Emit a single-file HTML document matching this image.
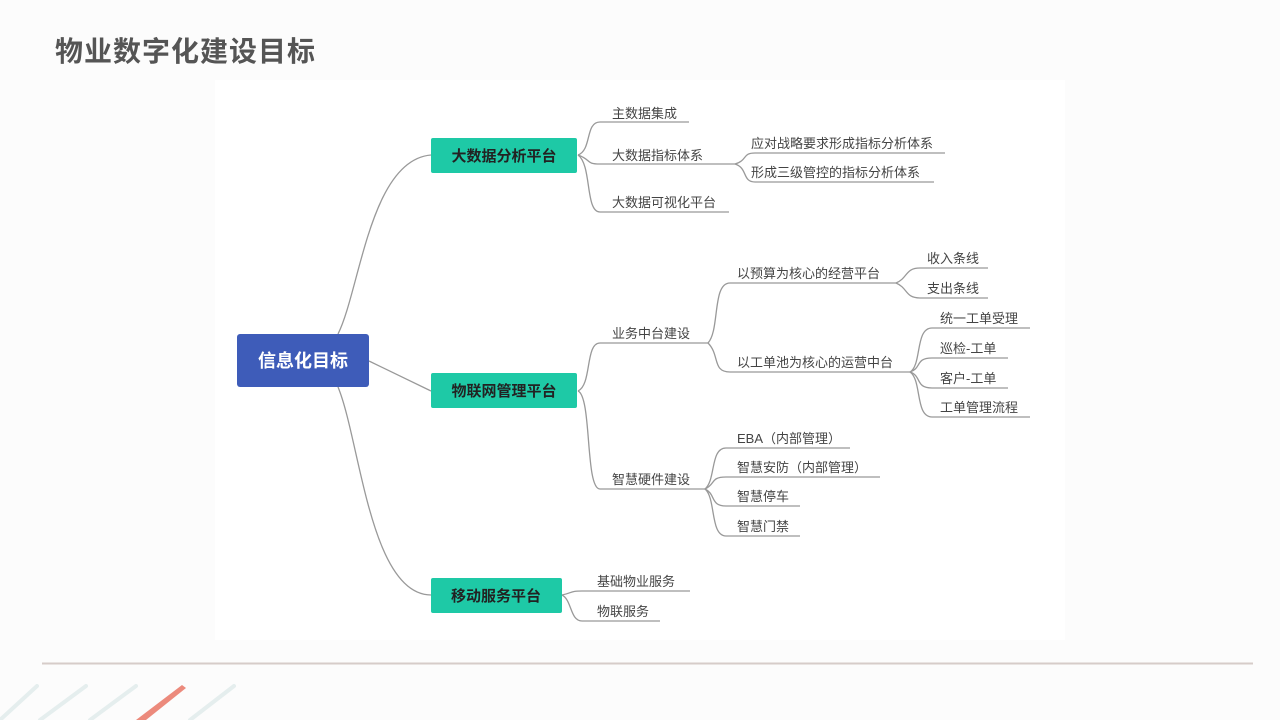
<!DOCTYPE html>
<html><head><meta charset="utf-8">
<style>
html,body{margin:0;padding:0;background:#fcfcfc;}
body{width:1280px;height:720px;overflow:hidden;position:relative;font-family:"Liberation Sans","Noto Sans CJK SC",sans-serif;}
.title{position:absolute;left:55px;top:34px;font-size:28px;font-weight:bold;color:#555;letter-spacing:1px;line-height:36px;}
svg{position:absolute;left:0;top:0;}
</style></head><body>
<div class="title">物业数字化建设目标</div>
<svg width="1280" height="720" viewBox="0 0 1280 720">
<rect x="215" y="80" width="850" height="560" fill="#fff"/>
<g fill="none" stroke="#999" stroke-width="1.3">
<path d="M338 334 C360 290 370 160 431 155"/>
<path d="M369 361 L431 391"/>
<path d="M338 387 C360 440 370 595 431 595"/>
<path d="M578 155 C592 150 585 122 600 122 L689 122"/>
<path d="M578 155 C592 160 585 164 600 164 L735 164"/>
<path d="M578 155 C592 165 585 212 600 212 L729 212"/>
<path d="M735 164 C748 160 742 153 755 153 L945 153"/>
<path d="M735 164 C748 168 742 182 755 182 L934 182"/>
<path d="M578 391 C592 385 585 343 600 343 L708 343"/>
<path d="M578 391 C592 397 585 489 600 489 L705 489"/>
<path d="M708 343 C720 330 712 283 730 283 L896 283"/>
<path d="M708 343 C720 355 712 372 730 372 L910 372"/>
<path d="M896 283 C908 278 905 268 920 268 L988 268"/>
<path d="M896 283 C908 288 905 298 920 298 L988 298"/>
<path d="M910 372 C922 365 915 328 932 328 L1030 328"/>
<path d="M910 372 C922 368 915 358 932 358 L1008 358"/>
<path d="M910 372 C922 376 915 388 932 388 L1008 388"/>
<path d="M910 372 C922 380 915 417 932 417 L1030 417"/>
<path d="M705 489 C716 480 710 448 726 448 L850 448"/>
<path d="M705 489 C716 484 710 477 726 477 L880 477"/>
<path d="M705 489 C716 494 710 506 726 506 L800 506"/>
<path d="M705 489 C716 498 710 536 726 536 L800 536"/>
<path d="M562 595 C572 593 570 591 582 591 L690 591"/>
<path d="M562 595 C572 600 570 621 582 621 L660 621"/>
</g>
<rect x="237" y="334" width="132" height="53" rx="3" fill="#3e5cb9"/>
<text x="303" y="367" text-anchor="middle" font-size="18" font-weight="bold" fill="#fff">信息化目标</text>
<g fill="#1ec9a6">
<rect x="431" y="138" width="146" height="35" rx="2"/>
<rect x="431" y="373" width="146" height="35" rx="2"/>
<rect x="431" y="578" width="131" height="35" rx="2"/>
</g>
<g font-size="15" font-weight="bold" fill="#222" text-anchor="middle">
<text x="504" y="161">大数据分析平台</text>
<text x="504" y="396">物联网管理平台</text>
<text x="496" y="601">移动服务平台</text>
</g>
<g font-size="13" fill="#444">
<text x="612" y="118">主数据集成</text>
<text x="612" y="160">大数据指标体系</text>
<text x="612" y="207">大数据可视化平台</text>
<text x="751" y="148">应对战略要求形成指标分析体系</text>
<text x="751" y="177">形成三级管控的指标分析体系</text>
<text x="612" y="338">业务中台建设</text>
<text x="612" y="484">智慧硬件建设</text>
<text x="737" y="278">以预算为核心的经营平台</text>
<text x="737" y="367">以工单池为核心的运营中台</text>
<text x="927" y="263">收入条线</text>
<text x="927" y="293">支出条线</text>
<text x="940" y="323">统一工单受理</text>
<text x="940" y="353">巡检-工单</text>
<text x="940" y="383">客户-工单</text>
<text x="940" y="412">工单管理流程</text>
<text x="737" y="443">EBA（内部管理）</text>
<text x="737" y="472">智慧安防（内部管理）</text>
<text x="737" y="501">智慧停车</text>
<text x="737" y="531">智慧门禁</text>
<text x="597" y="586">基础物业服务</text>
<text x="597" y="616">物联服务</text>
</g>
<line x1="42" y1="663.5" x2="1253" y2="663.5" stroke="#d6ccc9" stroke-width="2"/>
<g stroke="#e5eeee" stroke-width="4" stroke-linecap="round">
<line x1="0" y1="720" x2="37" y2="686"/>
<line x1="40" y1="720" x2="86" y2="686"/>
<line x1="90" y1="720" x2="136" y2="686"/>
<line x1="190" y1="720" x2="234" y2="686"/>
</g>
<polygon points="136,720 146,720 186,688 182,685" fill="#ec8a7c"/>
</svg>
</body></html>
